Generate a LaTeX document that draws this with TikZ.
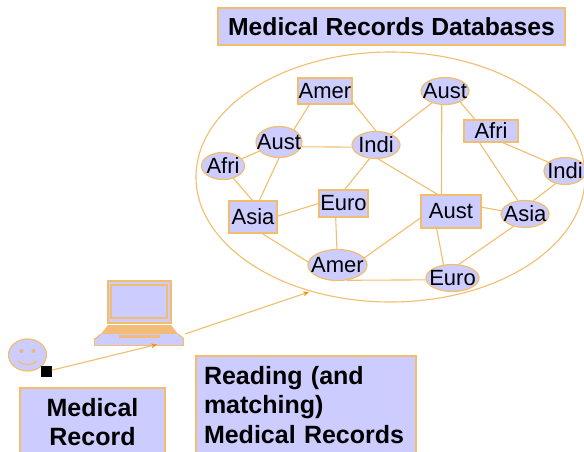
\documentclass[tikz,border=0pt]{standalone}
\usepackage{fontspec}
\setmainfont{Liberation Sans}
\usetikzlibrary{arrows.meta,shapes.geometric}
\definecolor{lav}{HTML}{CCCCFF}
\definecolor{org}{HTML}{F2BE6E}
\definecolor{orgd}{HTML}{F0B060}
\newcommand{\nt}[1]{\makebox[0pt]{#1}}
\tikzset{
 rbox/.style={draw=org,fill=lav,line width=1.2pt,rectangle,inner sep=0pt,font=\fontsize{22}{22}\selectfont},
 ebox/.style={draw=org,fill=lav,line width=1.2pt,ellipse,inner sep=0pt,font=\fontsize{22}{22}\selectfont},
 link/.style={draw=org,line width=1.1pt},
 labelbox/.style={draw=org,fill=lav,line width=1.2pt,rectangle,inner sep=0pt,font=\bfseries\fontsize{25}{29.5}\selectfont},
 lapbox/.style={draw=org,line width=1.4pt},
 feed/.style={draw=org,line width=1.1pt,-{Stealth[length=6pt,width=5pt,color=orange!80!org]}},
}
\begin{document}
\begin{tikzpicture}[x=1pt,y=-1pt]
\useasboundingbox (0,0) rectangle (584,452);
\fill[white] (0,0) rectangle (584,452);
% database ellipse
\node[draw=org,line width=1.1pt,ellipse,minimum width=389pt,minimum height=250pt,inner sep=0pt] (db) at (390.5,177) {};
\node[labelbox,minimum width=347pt,minimum height=37pt] (title) at (391.5,26.5) {\raisebox{-2pt}{\fontsize{24.7}{29}\selectfont Medical Records Databases}};
% graph nodes
\node[rbox,minimum width=54pt,minimum height=26pt] (amerR) at (325,91) {\nt{Amer}};
\node[ebox,minimum width=46pt,minimum height=31pt] (austE) at (279,142) {\nt{Aust}};
\node[ebox,minimum width=48pt,minimum height=27pt] (indiE) at (376,145) {\nt{Indi}};
\node[ebox,minimum width=43pt,minimum height=27pt] (afriE) at (223,166) {\nt{Afri}};
\node[rbox,minimum width=48pt,minimum height=32pt] (asiaR) at (253,217) {\nt{Asia}};
\node[rbox,minimum width=49pt,minimum height=27pt] (euroR) at (343.5,203.5) {\nt{Euro}};
\node[rbox,minimum width=60pt,minimum height=33pt] (austR) at (451,211.5) {\nt{Aust}};
\node[ebox,minimum width=48pt,minimum height=27pt] (asiaE) at (525,214) {\nt{Asia}};
\node[ebox,minimum width=59pt,minimum height=31pt] (amerE) at (337.5,265) {\nt{Amer}};
\node[ebox,minimum width=53pt,minimum height=27pt] (euroE) at (452.5,278) {\nt{Euro}};
\node[ebox,minimum width=48pt,minimum height=27pt] (austT) at (445,91) {\nt{Aust}};
\node[rbox,minimum width=54pt,minimum height=22pt] (afriR) at (491,131) {\nt{Afri}};
\node[ebox,minimum width=42pt,minimum height=27pt] (indiR) at (565,171) {\nt{Indi}};
% edges
\foreach \a/\b in {amerR.221/austE.40,amerR.-22/indiE.90,austE.-12/indiE.185,austE.205/afriE.21,austE.270/asiaR.69,afriE.-50/asiaR.92,indiE.245/euroR.85,indiE.-81/austR.128,indiE.35/austT.222,austT.257/austR.119,austT.-36/afriR.144,afriR.225/asiaE.118,afriR.-45/indiR.152,indiR.233/asiaE.58,austR.8/asiaE.172,austR.230/euroE.124,asiaE.227/euroE.65,austR.192/amerE.15,euroR.241/amerE.92,euroR.180/asiaR.2,asiaR.-61/amerE.174,amerE.-58/euroE.184}
  \draw[link] (\a) -- (\b);
% laptop
\node[lapbox,fill=lav,rectangle,minimum width=63pt,minimum height=42pt,inner sep=0pt] (screen) at (139.5,302) {};
\node[lapbox,rectangle,minimum width=56pt,minimum height=33pt,inner sep=0pt] (inner) at (139,301.5) {};
\fill[orgd!85!white] (108,325) -- (171,325) -- (178,334) -- (101,334) -- cycle;
\node[lapbox,fill=lav,minimum width=89pt,minimum height=7pt,inner sep=0pt,rectangle] (base) at (139,342) {};
\fill[lav] (101,334) -- (178,334) -- (184,339) -- (95,339) -- cycle;
\draw[org,line width=1.2pt] (101,334) -- (95,339) (178,334) -- (184,339);
\fill[orgd!85!white] (119,335) rectangle (160,337.5);
% face
\node[draw=org,fill=lav,line width=1.2pt,ellipse,minimum width=38pt,minimum height=32pt,inner sep=0pt] (face) at (27.5,355) {};
\fill[orgd!80!lav] (21.5,351) circle (2pt) (33.5,351) circle (2pt);
\draw[org,line width=1.2pt] (18,361) .. controls (23,366) and (32,366) .. (37,361);
\node[draw=black,fill=black,minimum size=10pt,inner sep=0pt,rectangle] (sq) at (46.5,371.5) {};
% connectors
\coordinate (lapIn) at (157,344.5);
\coordinate (lapOut) at (185,334);
\coordinate (dbIn) at (309,292);
\draw[feed] (sq) -- (lapIn);
\draw[feed] (lapOut) -- (dbIn);
% labels
\node[labelbox,minimum width=145pt,minimum height=68pt,align=center] (rec) at (92.5,422) {Medical\\Record};
\node[labelbox,minimum width=220pt,minimum height=98pt,align=left,text width=204pt] (read) at (306,405) {Reading (and\\matching)\\Medical Records};
\end{tikzpicture}
\end{document}
